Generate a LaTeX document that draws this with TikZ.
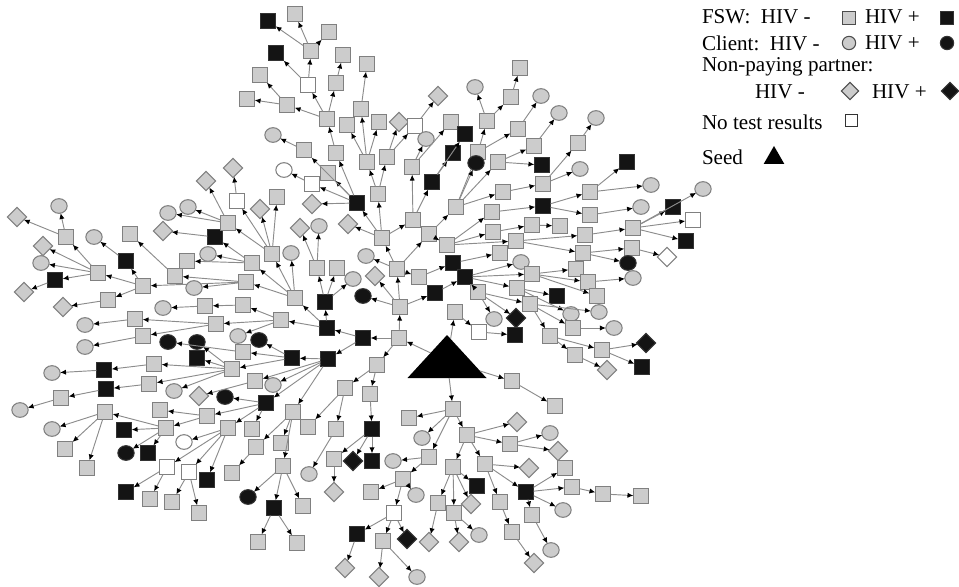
\documentclass[tikz,border=0pt]{standalone}
\usepackage{fontspec}
\setmainfont{Liberation Serif}
\usetikzlibrary{shapes.geometric, arrows.meta}

\begin{document}
\begin{tikzpicture}
        [x=0.03cm, y=-0.03cm,
        every node/.style={inner sep=0pt, outer sep=0pt},
        fswneg/.style={rectangle, draw=black!50, line width=0.9pt, fill=black!20, minimum size=0.46cm},
        fswpos/.style={fswneg, draw=black!80, fill=black!92},
        notest/.style={fswneg, fill=white},
        cltneg/.style={ellipse, draw=black!50, line width=0.9pt, fill=black!20, minimum width=0.49cm, minimum height=0.44cm},
        cltpos/.style={cltneg, draw=black!80, fill=black!92},
        notestc/.style={cltneg, fill=white},
        prtneg/.style={diamond, draw=black!50, line width=0.9pt, fill=black!20, minimum width=0.58cm, minimum height=0.58cm},
        prtpos/.style={prtneg, draw=black!80, fill=black!92},
        notestd/.style={prtneg, fill=white},
        seedtri/.style={isosceles triangle, isosceles triangle stretches, shape border rotate=90, fill=black, minimum width=2.37cm, minimum height=1.29cm},
        edge/.style={draw=black!45, line width=0.8pt, -{Latex[black, length=5pt, width=4.5pt]}},
        legtext/.style={anchor=west, font=\fontsize{18}{20}\selectfont}]

    \useasboundingbox (0,0) rectangle (959,586);

    \node[seedtri, anchor=apex] (seed) at (447,335) {};

    \foreach \id/\x/\y/\kind/\from in {
      s1/399/338/fswneg/seed, s2/400/307/fswneg/s1, s3/363/338/fswpos/s1,
      s4/328/359/fswpos/s3, s5/327/328/fswpos/s3, s6/325/302/fswpos/s5,
      s7/317/268/fswneg/s6, s8/337/268/fswneg/s6, s9/353/279/cltneg/s6,
      s10/281/320/fswneg/s5, s11/295/298/fswneg/s5, s12/363/296/cltpos/s2,
      s13/397/269/fswneg/s2, s14/375/276/prtneg/s2, s15/382/238/fswneg/s13,
      s16/366/256/cltneg/s13, s17/419/277/fswneg/s13, s18/413/220/fswneg/s15,
      s19/429/234/fswneg/s13, s20/357/203/fswpos/s15, s21/348/224/prtneg/s15,
      s22/378/194/fswneg/s15, s23/312/204/prtneg/s20, s24/336/153/fswneg/s20,
      s25/328/173/fswneg/s20, s26/312/184/notest/s20, s27/304/150/fswneg/s20,
      s28/284/170/notestc/s26, s29/273/135/cltneg/s27, s30/327/119/fswneg/s24,
      s31/287/105/fswneg/s30, s32/308/85/notest/s30, s33/336/83/fswneg/s30,
      s34/260/75/fswneg/s31, s35/247/99/fswneg/s31, s36/311/51/fswneg/s32,
      s37/276/53/fswpos/s32, s38/268/21/fswpos/s36, s39/295/14/fswneg/s36,
      s40/329/32/fswneg/s36, s41/343/55/fswneg/s33, s42/367/162/fswneg/s22,
      s43/347/125/fswneg/s42, s44/361/109/fswneg/s42, s45/379/122/fswneg/s42,
      s46/367/64/fswneg/s44, s47/387/157/fswneg/s22, s48/399/122/prtneg/s47,
      s49/415/126/notest/s47, s50/438/96/prtneg/s49, s51/412/167/fswneg/s18,
      s52/426/139/cltneg/s51, s53/451/122/fswneg/s51, s54/432/182/fswpos/s18,
      s55/453/153/fswpos/s54, s56/465/134/fswpos/s54, s57/456/207/fswneg/s19,
      s58/478/152/fswneg/s57, s59/487/121/fswneg/s58, s60/475/87/cltneg/s59,
      s61/511/97/fswneg/s59, s62/520/68/fswneg/s61, s63/476/163/cltpos/s57,
      s64/498/162/fswneg/s57, s65/518/129/fswneg/s58, s66/541/96/cltneg/s65,
      s67/534/146/fswneg/s64, s68/559/113/cltneg/s67, s71/542/165/fswpos/s64,
      s73/503/192/fswneg/s57, s72/543/184/fswneg/s73, s69/578/143/fswneg/s72,
      s70/596/118/cltneg/s69, s74/580/169/cltneg/s72,
      s80/447/245/fswneg/s19, s77/492/212/fswneg/s80, s76/543/206/fswpos/s77,
      s75/590/192/fswneg/s76, s78/590/215/fswneg/s76, s79/651/185/cltneg/s75,
      s81/627/162/fswpos/s75, s82/641/207/cltneg/s78, s83/493/232/fswneg/s80,
      s84/532/225/fswneg/s83, s85/560/226/fswneg/s84, s86/516/241/fswneg/s80,
      s87/585/235/fswneg/s86, s88/583/253/fswneg/s86, s89/633/228/fswneg/s87,
      s90/673/207/fswpos/s89, s91/703/189/cltneg/s89, s92/693/220/notest/s89,
      s93/686/241/fswpos/s89, s94/632/248/fswneg/s88, s95/667/257/notestd/s94,
      s96/628/263/cltpos/s88, s97/435/293/fswpos/s2, s98/453/263/fswpos/s17,
      s99/465/277/fswpos/s97, s100/500/253/fswneg/s98, s101/521/262/cltneg/s99,
      s102/532/274/fswneg/s99, s103/517/288/fswneg/s99, s104/478/292/fswneg/s99,
      s105/576/269/fswneg/s102, s106/588/282/fswneg/s102, s107/633/278/cltneg/s106,
      s108/597/296/fswneg/s102, s109/557/296/fswpos/s103, s110/571/314/cltneg/s103,
      s111/530/304/fswneg/s104, s112/494/319/cltneg/s104, s113/516/318/prtpos/s104,
      s114/599/312/cltneg/s111, s115/573/328/fswneg/s111, s116/550/336/fswneg/s111,
      s117/614/328/cltneg/s115, s118/575/355/fswneg/s116, s119/602/350/fswneg/s116,
      s120/646/343/prtpos/s119, s121/642/367/fswpos/s119, s122/607/370/prtneg/s118,
      s123/455/312/fswneg/seed, s124/479/332/notest/s123, s125/515/335/fswpos/s124,
      s126/512/381/fswneg/seed, s127/555/406/fswneg/s126,
      t1/453/409/fswneg/seed, t2/467/435/fswneg/t1, t3/409/418/fswneg/t1,
      t4/429/457/fswneg/t1, t5/422/438/cltneg/t1, t6/517/422/prtneg/t2,
      t7/510/444/fswneg/t2, t8/485/464/fswneg/t2, t9/453/467/fswneg/t2,
      t10/550/433/cltneg/t7, t11/558/451/prtneg/t7, t12/529/468/prtneg/t8,
      t13/526/492/fswpos/t8, t14/500/502/fswneg/t8, t15/565/468/fswneg/t13,
      t16/572/487/fswneg/t13, t17/563/510/cltneg/t13, t18/532/515/fswneg/t13,
      t19/603/494/fswneg/t16, t20/641/496/fswneg/t19, t21/551/550/cltneg/t18,
      t22/512/532/fswneg/t14, t23/534/563/prtneg/t22, t24/477/486/fswpos/t9,
      t25/471/504/prtneg/t9, t26/454/513/fswneg/t9, t27/438/503/fswneg/t9,
      t28/459/542/prtneg/t26, t29/479/535/cltneg/t26, t30/429/542/prtneg/t27,
      t31/393/461/cltneg/t4, t32/403/479/fswneg/t4, t33/371/492/fswneg/t32,
      t34/416/495/cltneg/t32, t35/394/513/notest/t32, t36/357/534/fswpos/t35,
      t37/383/541/fswneg/t35, t38/407/539/prtpos/t35, t39/345/568/prtneg/t36,
      t40/379/577/prtneg/t37, t41/417/577/cltneg/t37,
      u1/377/365/fswneg/s1, u2/370/394/fswneg/u1, u3/372/429/fswpos/u2,
      u4/334/459/fswneg/u3, u5/353/461/prtpos/u3, u6/372/461/fswpos/u3,
      u7/334/492/prtneg/u4, u8/345/388/fswneg/u1, u9/336/429/fswneg/u8,
      u10/308/427/fswneg/u8, u11/309/474/cltneg/u9, u12/293/412/fswneg/s4,
      u13/256/447/fswneg/u12, u14/281/443/fswneg/u12, u15/283/466/fswneg/u12,
      u16/248/497/cltpos/u15, u17/274/508/fswpos/u15, u18/303/506/fswneg/u15,
      u19/258/542/fswneg/u17, u20/297/543/fswneg/u17, u21/232/473/fswneg/u13,
      u22/266/403/fswpos/s4, u23/225/397/cltpos/u22, u24/228/428/fswneg/u22,
      u25/252/429/fswneg/u22, u26/184/442/notestc/u24, u27/167/467/notest/u24,
      u28/189/472/notest/u24, u29/207/480/fswpos/u24, u30/126/492/fswpos/u27,
      u31/150/499/fswneg/u27, u32/172/502/fswneg/u28, u33/199/513/fswneg/u28,
      u34/207/416/fswneg/u22, u35/160/410/fswneg/u34, u36/166/428/fswneg/u34,
      u37/124/430/fswpos/u36, u38/126/453/cltpos/u36, u39/148/453/fswpos/u36,
      u40/105/412/fswneg/u36, u41/52/429/cltneg/u40, u42/65/449/fswneg/u40,
      u43/87/468/fswneg/u40, u44/255/381/fswneg/s4, u45/273/385/cltneg/s4,
      u46/199/396/prtneg/u44, u47/292/358/fswpos/s4, u48/232/369/fswneg/u47,
      u49/243/352/fswneg/u47, u50/259/340/cltpos/u47, u51/154/364/fswneg/u48,
      u52/104/370/fswpos/u51, u53/52/373/cltneg/u52, u54/197/358/fswpos/u48,
      u55/197/342/cltpos/u48, u56/174/391/cltneg/u48, u57/149/384/fswneg/u48,
      u58/106/389/fswpos/u57, u59/61/398/fswneg/u58, u60/20/410/cltneg/u59,
      u61/168/342/cltpos/u49, u62/238/336/cltneg/s10,
      v1/216/324/fswneg/s10, v2/135/319/fswneg/v1, v3/143/336/fswneg/v1,
      v4/85/325/cltneg/v2, v5/85/347/cltneg/v3, v6/243/305/fswneg/s10,
      v7/205/306/fswneg/v6, v8/163/308/cltneg/v7, v9/246/282/fswneg/s11,
      v10/143/286/fswneg/v9, v11/194/288/cltneg/v9, v12/175/276/fswneg/v9,
      v13/130/234/fswneg/v12, v14/98/273/fswneg/v10, v15/126/261/fswpos/v10,
      v16/108/300/fswneg/v10, v17/63/307/prtneg/v16, v18/94/237/cltneg/v15,
      v19/66/237/fswneg/v14, v20/43/246/prtneg/v14, v21/41/263/cltneg/v14,
      v22/55/280/fswpos/v14, v23/24/292/prtneg/v22, v24/59/206/cltneg/v19,
      v25/17/217/prtneg/v19, v26/252/263/fswneg/s11, v27/208/254/cltneg/v26,
      v28/187/261/fswneg/v26, v29/215/237/fswpos/v26, v30/163/231/prtneg/v29,
      v31/272/254/fswneg/s11, v32/291/253/cltneg/s11, v33/260/209/prtneg/v31,
      v34/277/197/fswneg/v31, v35/228/223/fswneg/v31, v36/237/201/notest/v31,
      v37/233/168/prtneg/v36, v38/206/181/prtneg/v35, v39/188/207/cltneg/v35,
      v40/168/213/cltneg/v35, v41/300/228/prtneg/s7, v42/319/226/cltneg/s7}
    {
      \node[\kind] (\id) at (\x,\y) {};
      \draw[edge] (\from) -- (\id);
    }

    \node[legtext] (lfsw) at (702,17) {FSW:\ \ HIV -};
    \node[fswneg, draw=black!70, minimum size=0.38cm] (lfn) at (849,18) {};
    \node[legtext] (lfswp) at (865,17) {HIV +};
    \node[fswpos, minimum size=0.38cm] (lfp) at (947,18) {};
    \node[legtext] (lclt) at (702,43) {Client:\ \ HIV -};
    \node[cltneg, draw=black!70, minimum width=0.4cm, minimum height=0.4cm] (lcn) at (849,43) {};
    \node[legtext] (lcltp) at (865,43) {HIV +};
    \node[cltpos, minimum width=0.4cm, minimum height=0.4cm] (lcp) at (947,43) {};
    \node[legtext] (lprt) at (702,67) {Non-paying partner:};
    \node[legtext] (lprtn) at (755,92) {HIV -};
    \node[prtneg, draw=black!70, minimum width=0.52cm, minimum height=0.52cm] (lpn) at (850,91) {};
    \node[legtext] (lprtp) at (872,92) {HIV +};
    \node[prtpos, minimum width=0.52cm, minimum height=0.52cm] (lpp) at (950,91) {};
    \node[legtext] (lnt) at (702,122) {No test results};
    \node[notest, draw=black!80, line width=0.6pt, minimum size=0.36cm] (lnts) at (851,120) {};
    \node[legtext] (lseed) at (702,157) {Seed};
    \node[isosceles triangle, isosceles triangle stretches, shape border rotate=90, fill=black, minimum width=0.62cm, minimum height=0.54cm] (lst) at (774,158) {};
\end{tikzpicture}
\end{document}
